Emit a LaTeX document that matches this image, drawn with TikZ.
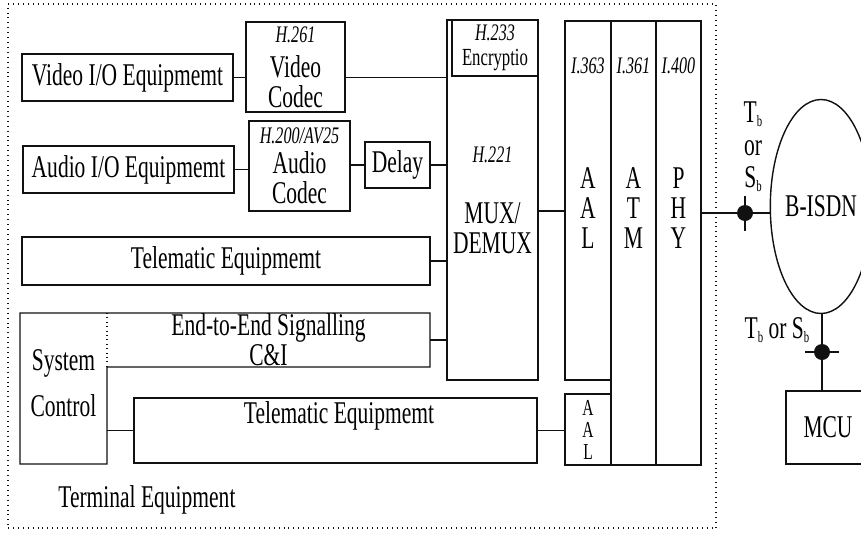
\documentclass[tikz,border=0pt]{standalone}
\usepackage{fontspec}
\setmainfont{Liberation Serif}[FakeStretch=0.68]
\usetikzlibrary{positioning,shapes.geometric}
\definecolor{ink}{HTML}{111111}
\newcommand\mainfs{\fontsize{18}{17}\selectfont}
\newcommand\tagfs{\fontsize{13.5}{17}\selectfont\itshape}
\newcommand\lowb{\raisebox{-0.3ex}{\fontsize{9}{9}\selectfont b}}
\tikzset{
  blk/.style={draw=ink, line width=0.8pt, inner sep=0pt, outer sep=0pt, align=center, font=\mainfs},
  sz/.style 2 args={minimum width=#1*0.2mm, minimum height=#2*0.2mm},
  tag/.style={font=\tagfs, inner sep=0pt},
  txt/.style={font=\mainfs, inner sep=0pt, align=center},
  wire/.style={draw=ink, line width=0.8pt},
  frame/.style={draw=ink, line width=0.6pt, dash pattern=on 0.5pt off 2.3pt, inner sep=0pt},
  dot/.style={circle, fill=ink, inner sep=0pt, minimum size=3.2mm}
}

\begin{document}
\begin{tikzpicture}[x=0.2mm, y=-0.2mm]
  \useasboundingbox (0,0) rectangle (861,533);
  \clip (0,0) rectangle (861,533);

  % terminal equipment
  \node[frame, sz={708}{524}] (term) at (362,266) {};
  \node[txt, anchor=west] (termlbl) at (58,500) {Terminal Equipment};

  \node[blk, sz={211}{47}] (vidio) at (127.5,77.5) {Video I/O Equipmemt};
  \node[blk, sz={99}{90}] (vcodec) at (295.5,67) {{\tagfs H.261}\\[3pt]Video\\Codec};
  \node[blk, sz={211}{47}] (audio) at (128.5,169.5) {Audio I/O Equipmemt};
  \node[blk, sz={101}{90}] (acodec) at (299.5,166) {{\tagfs H.200/AV25}\\Audio\\Codec};
  \node[blk, sz={65}{46}] (delay) at (397.5,165) {Delay};
  \node[blk, sz={408}{48}] (tele1) at (226,261) {Telematic Equipmemt};

  \node[blk, sz={91}{360}] (mux) at (492.5,200) {{\tagfs H.221}\\[18pt]MUX/\\DEMUX};
  \node[blk, sz={86}{56}, anchor=north east] (enc) at (mux.north east) {{\tagfs H.233}\\[-3pt]{\fontsize{14}{15}\selectfont Encryptio}};

  % protocol stack
  \node[blk, sz={46}{359}] (aal) at (588,200.5) {};
  \node[blk, sz={45}{444}] (atm) at (633.5,243) {};
  \node[blk, sz={45}{444}] (phy) at (678.5,243) {};
  \node[blk, sz={46}{71}, font=\fontsize{13}{12.5}\selectfont] (aal2) at (588,429.5) {A\\A\\L};
  \node[tag, below=7.2mm of aal.north] (aaltag) {I.363};
  \node[tag, below=7.2mm of atm.north] (atmtag) {I.361};
  \node[tag, below=7.2mm of phy.north] (phytag) {I.400};
  \node[txt] (aaltxt) at (588,208) {A\\A\\L};
  \node[txt] (atmtxt) at (633.5,208) {A\\T\\M};
  \node[txt] (phytxt) at (678.5,208) {P\\H\\Y};

  % system control + signalling
  \node[blk, draw=none, sz={323}{54}] (e2e) at (268.5,340) {End-to-End Signalling\\C\&I};
  \node[blk, draw=none, sz={87}{151}] (sys) at (63.5,388.5) {System\\[9pt]Control\\[-10.5pt]};
  \draw[wire] (sys.north west) -- (e2e.north east) -- (e2e.south east) -- (e2e.south west)
    -- (sys.south east) -- (sys.south west) -- cycle;
  \draw[wire, line width=0.6pt, dash pattern=on 0.5pt off 2pt] (e2e.north west) -- (e2e.south west);
  \node[blk, sz={403}{65}] (tele2) at (335.5,430.5) {};
  \node[txt] (tele2txt) at (339,416) {Telematic Equipmemt};

  % network side
  \node[draw=ink, line width=0.8pt, ellipse, inner sep=0pt, minimum width=78*0.2mm, minimum height=214*0.2mm, font=\mainfs] (bisdn) at (821,206.5) {B-ISDN};
  \node[blk, sz={84}{73}] (mcu) at (828,427.5) {MCU};
  \node[dot] (sp1) at (745,213) {};
  \node[dot] (sp2) at (822,352) {};
  \node[txt] (tslbl) at (753,147) {T\lowb\\[1.5pt]or\\[1.5pt]S\lowb};
  \node[txt] (tslbl2) at (777,330) {T\lowb{} or S\lowb};

  \draw[wire] (vidio.east) -- (vidio.east -| vcodec.west);
  \draw[wire] (vcodec.east |- vidio.east) -- (mux.west |- vidio.east);
  \draw[wire] (audio.east) -- (audio.east -| acodec.west);
  \draw[wire] (delay.west -| acodec.east) -- (delay.west);
  \draw[wire] (delay.east) -- (delay.east -| mux.west);
  \draw[wire] (tele1.east) -- (tele1.east -| mux.west);
  \draw[wire] (e2e.east) -- (e2e.east -| mux.west);
  \draw[wire] ([yshift=-2.2mm]mux.east) -- ([yshift=-2.2mm]mux.east -| aal.west);
  \draw[wire] (sys.east |- tele2.west) -- (tele2.west);
  \draw[wire] (tele2.east) -- (tele2.east -| aal2.west);
  \draw[wire] (phy.east |- sp1) -- (sp1) -- (sp1 -| bisdn.west);
  \draw[wire] ([yshift=3.5mm]sp1.center) -- ([yshift=-3.5mm]sp1.center);
  \draw[wire] (sp2 |- bisdn.south) -- (sp2) -- (sp2 |- mcu.north);
  \draw[wire] ([xshift=-3.4mm]sp2.center) -- ([xshift=3.4mm]sp2.center);
\end{tikzpicture}
\end{document}
